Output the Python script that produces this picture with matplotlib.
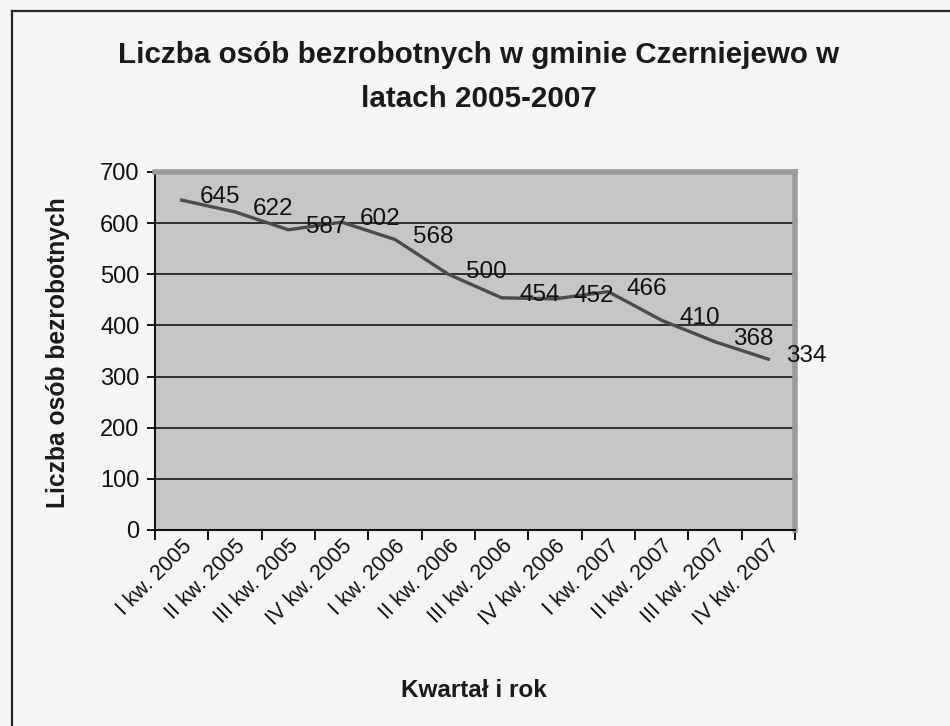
import matplotlib
matplotlib.use("Agg")
import matplotlib.pyplot as plt
from matplotlib.lines import Line2D
import numpy as np

plt.rcParams['font.family'] = ['Liberation Sans', 'DejaVu Sans']

categories = ["I kw. 2005", "II kw. 2005", "III kw. 2005", "IV kw. 2005",
              "I kw. 2006", "II kw. 2006", "III kw. 2006", "IV kw. 2006",
              "I kw. 2007", "II kw. 2007", "III kw. 2007", "IV kw. 2007"]
values = [645, 622, 587, 602, 568, 500, 454, 452, 466, 410, 368, 334]
yticks = [0, 100, 200, 300, 400, 500, 600, 700]

title_line1 = "Liczba osób bezrobotnych w gminie Czerniejewo w"
title_line2 = "latach 2005-2007"
xlabel = "Kwartał i rok"
ylabel = "Liczba osób bezrobotnych"

fig = plt.figure(figsize=(9.5, 7.26), dpi=100)
fig.patch.set_facecolor('#f5f5f7')

ax = fig.add_axes([155/950, 1-530/726, 640/950, 358/726])
ax.set_facecolor('#c6c6c6')

x = np.arange(len(categories))
ax.set_xlim(-0.5, len(categories) - 0.5)
ax.set_ylim(0, 700)

# gridlines
ax.set_yticks(yticks)
ax.yaxis.grid(True, color='#151515', linewidth=1.2)
ax.set_axisbelow(True)

ax.plot(x, values, color='#4c4c4c', linewidth=2.4, zorder=3)

for xi, v in zip(x, values):
    ax.annotate(str(v), (xi, v), xytext=(13, 2), textcoords='offset points',
                ha='left', va='center', fontsize=17.5, color='#111111', zorder=4,
                annotation_clip=False)

# x ticks at category boundaries, labels at centers
ax.set_xticks(np.arange(-0.5, len(categories), 1.0))
ax.set_xticklabels([])
ax.set_xticks(x, minor=True)
ax.set_xticklabels(categories, minor=True, rotation=45, ha='right',
                   rotation_mode='anchor', fontsize=15.5, color='#111111')
ax.tick_params(axis='x', which='major', length=7, width=1.4, color='#111111', direction='out')
ax.tick_params(axis='x', which='minor', length=0, pad=4)
ax.tick_params(axis='y', length=6, width=1.4, color='#111111', labelsize=17,
               labelcolor='#111111', pad=5)

for s in ['left', 'bottom']:
    ax.spines[s].set_color('#111111')
    ax.spines[s].set_linewidth(1.5)
for s in ['top', 'right']:
    ax.spines[s].set_color('#9c9c9c')
    ax.spines[s].set_linewidth(4)

# titles and axis labels
fig.text(479/950, 1-63/726, title_line1, ha='center', va='baseline',
         fontsize=21.3, fontweight='bold', color='#1a1a1a')
fig.text(479/950, 1-107/726, title_line2, ha='center', va='baseline',
         fontsize=21.3, fontweight='bold', color='#1a1a1a')
fig.text(474/950, 1-697/726, xlabel, ha='center', va='baseline',
         fontsize=17.5, fontweight='bold', color='#1a1a1a')
fig.text(58/950, 1-353/726, ylabel, ha='center', va='center', rotation=90,
         fontsize=17.7, fontweight='bold', color='#1a1a1a')

# outer frame (left and top edges visible)
fig.add_artist(Line2D([12/950, 12/950], [0, 1-11/726], transform=fig.transFigure,
                      color='#222222', linewidth=1.6))
fig.add_artist(Line2D([12/950, 1], [1-11/726, 1-11/726], transform=fig.transFigure,
                      color='#222222', linewidth=1.6))

fig.savefig('out.png', dpi=100, facecolor=fig.get_facecolor())
